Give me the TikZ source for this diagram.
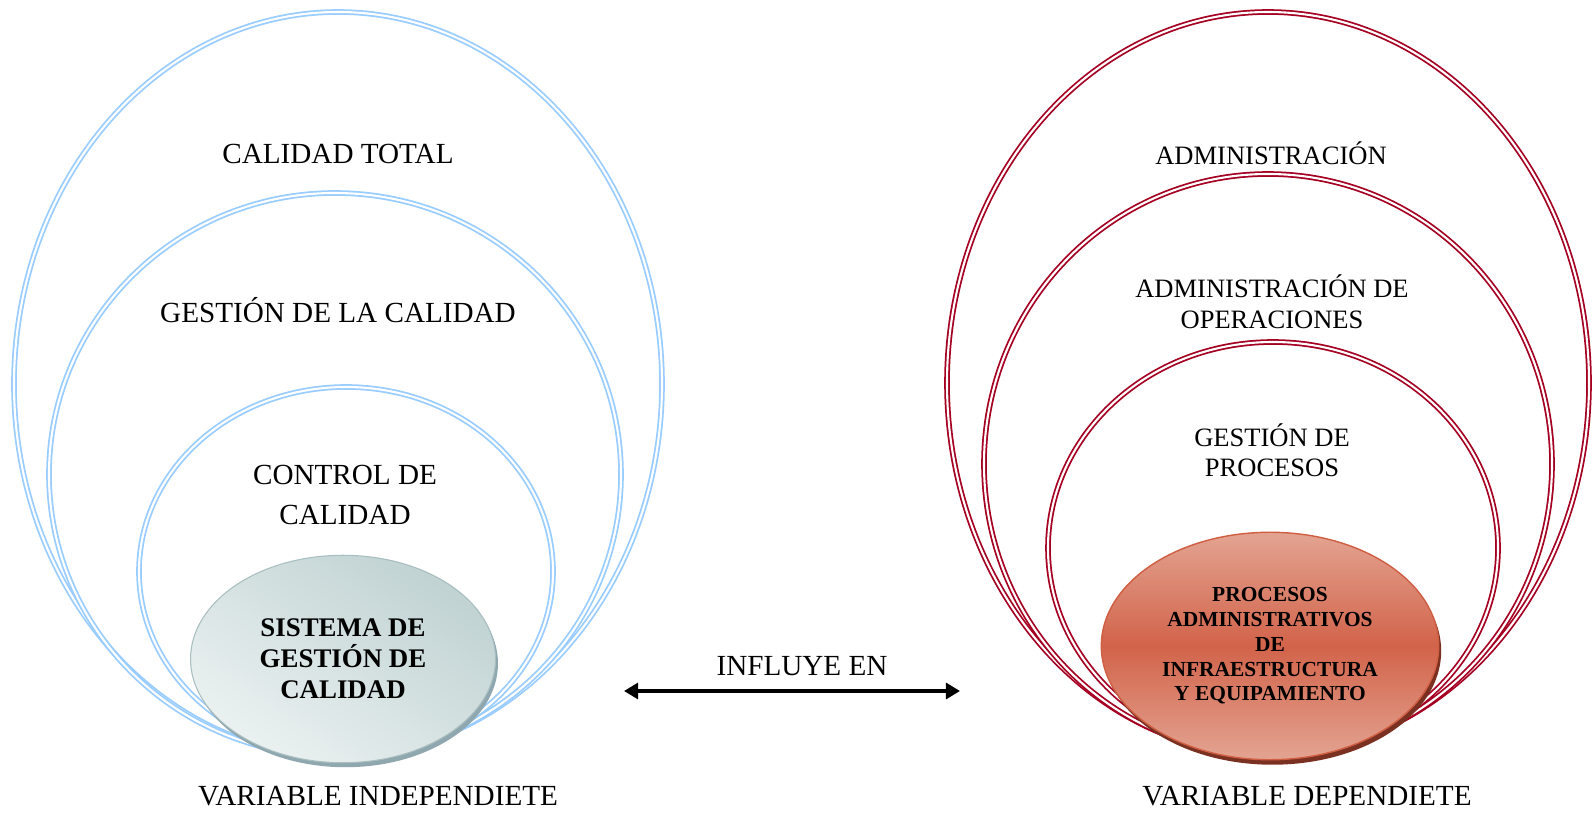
\documentclass[tikz,border=0pt]{standalone}
\usepackage{fontspec}
\setmainfont{Liberation Serif}
\usepackage{tikz}
\usetikzlibrary{shapes.geometric,shadows,arrows.meta}
\definecolor{ringblue}{HTML}{99CCFF}
\definecolor{ringred}{HTML}{A50021}
\definecolor{coreblueA}{HTML}{EBF1F1}
\definecolor{coreblueB}{HTML}{C0D2D2}
\definecolor{coreblueE}{HTML}{A9BEC0}
\definecolor{coreblueS}{HTML}{8FA7AE}
\definecolor{coreredA}{HTML}{E3A492}
\definecolor{coreredB}{HTML}{D2634A}
\definecolor{coreredE}{HTML}{CF5E42}
\definecolor{coreredS}{HTML}{7A3121}
\tikzset{every picture/.style={/utils/exec={\fontsize{16.6}{19}\selectfont}}}
\tikzstyle{ring}=[line width=1pt,double=white,double distance=1.2pt]
\tikzstyle{bluering}=[ring,draw=ringblue]
\tikzstyle{redring}=[ring,draw=ringred]
\tikzstyle{txt}=[align=center,inner sep=0pt]
\tikzstyle{rtxt}=[txt,font=\fontsize{15.1}{17.9}\selectfont]
\tikzstyle{core}=[ellipse,inner sep=0pt,align=center,font=\bfseries]
\tikzstyle{arrow}=[line width=2.1pt,{Triangle[width=9pt,length=8pt]}-{Triangle[width=9pt,length=8pt]}]

\begin{document}
\begin{tikzpicture}[x=0.02cm,y=-0.02cm]
  \useasboundingbox (0,0) rectangle (1592,813);
  % independiente
  \foreach \cx/\cy/\rx/\ry in {338/384/324/372, 335/474.5/286/281.5, 346/571.5/207/184.5} {
    \draw[bluering] (\cx,\cy) ellipse [x radius=\rx, y radius=\ry];
  }
  % dependiente
  \foreach \cx/\cy/\rx/\ry in {1268/383/321/371, 1268/464/284/290, 1273/548/225/206} {
    \draw[redring] (\cx,\cy) ellipse [x radius=\rx, y radius=\ry];
  }
  \node[core, minimum width=6.1cm, minimum height=4.15cm,
        draw=coreblueE, line width=0.6pt,
        shading=axis, top color=coreblueB, bottom color=coreblueA, shading angle=-35,
        drop shadow={shadow xshift=0.05cm, shadow yshift=-0.09cm, fill=coreblueS, opacity=1},
        font=\fontsize{15.3}{17.6}\selectfont\bfseries]
    (SGC) at (343,659) {SISTEMA DE\\GESTIÓN DE\\CALIDAD};
  \node[core, minimum width=6.75cm, minimum height=4.55cm,
        draw=coreredE, line width=0.8pt,
        top color=coreredA, bottom color=coreredA, middle color=coreredB,
        drop shadow={shadow xshift=0.05cm, shadow yshift=-0.1cm, fill=coreredS, opacity=1},
        font=\fontsize{12.2}{14.1}\selectfont\bfseries]
    (PAIE) at (1270,646) {PROCESOS\\ADMINISTRATIVOS\\DE\\INFRAESTRUCTURA\\Y EQUIPAMIENTO};

  \node[txt] (CT) at (338,154) {CALIDAD TOTAL};
  \node[txt] (GC) at (338,310) {GESTIÓN DE LA CALIDAD};
  \node[txt, font=\fontsize{16.6}{22.5}\selectfont] (CC) at (345,495) {CONTROL DE\\CALIDAD};
  \node[rtxt] (AD) at (1271,153) {ADMINISTRACIÓN};
  \node[rtxt] (AO) at (1272,302) {ADMINISTRACIÓN DE\\OPERACIONES};
  \node[rtxt, font=\fontsize{15.1}{17.3}\selectfont] (GP) at (1272,450) {GESTIÓN DE\\PROCESOS};

  \node[txt] (INF) at (802,666) {INFLUYE EN};
  \coordinate (ArrL) at (624,691);
  \coordinate (ArrR) at (960,691);
  \draw[arrow] (ArrL) -- (ArrR);

  \node[txt] (VI) at (378,796) {VARIABLE INDEPENDIETE};
  \node[txt] (VD) at (1307,796) {VARIABLE DEPENDIETE};
\end{tikzpicture}
\end{document}
